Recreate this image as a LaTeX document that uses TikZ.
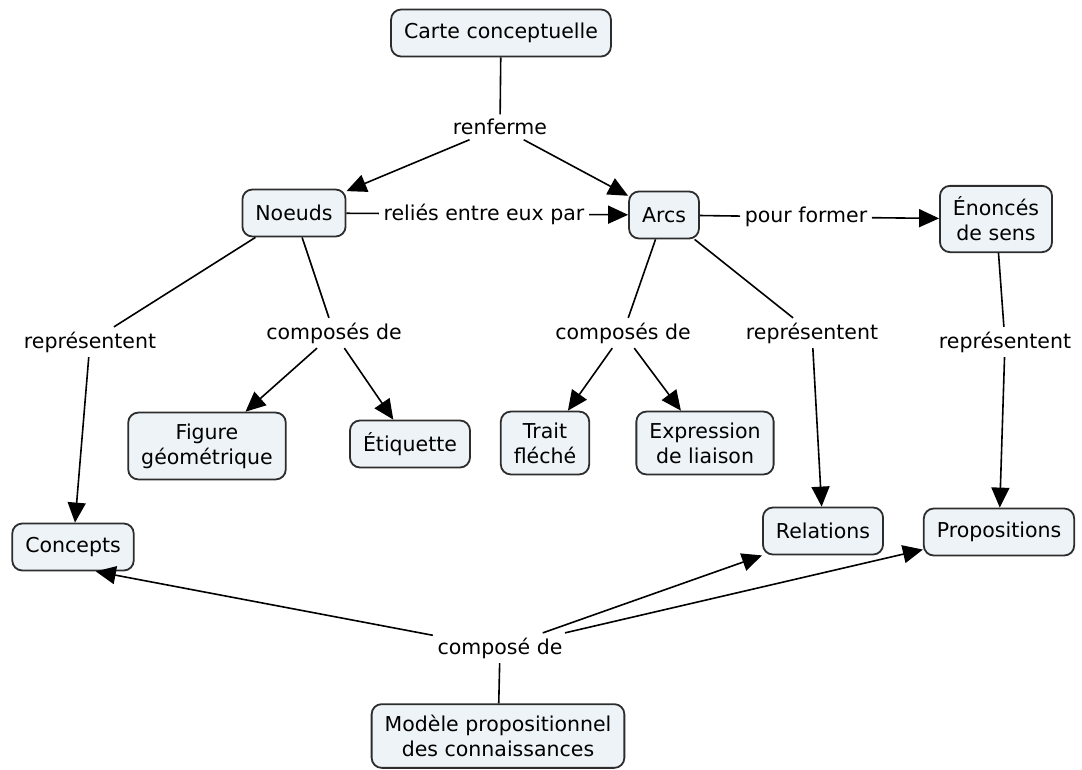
\documentclass[tikz,border=0pt]{standalone}
\usepackage{fontspec}
\setmainfont{DejaVu Sans}
\usepackage{tikz}
\usetikzlibrary{arrows.meta}
\definecolor{cmapfill}{RGB}{237,243,246}
\definecolor{cmapline}{RGB}{45,45,45}

\tikzset{
  concept/.style={draw=cmapline,fill=cmapfill,line width=1.8pt,rounded corners=10pt,
                  align=center,inner xsep=13pt,inner ysep=11pt,minimum height=47pt},
  phrase/.style={inner sep=4pt,align=center}
}

\begin{document}
\begin{tikzpicture}[x=1pt,y=-1pt,line width=1.6pt,
                    >={Triangle[length=20pt,width=18pt]},
                    font=\fontsize{20.5}{25}\selectfont]
        \useasboundingbox (0,0) rectangle (1082,769);

        \node[concept] (C01) at (501,33)   {Carte conceptuelle};
        \node[concept] (C02) at (294,213)  {Noeuds};
        \node[concept] (C03) at (664,215)  {Arcs};
        \node[concept] (C04) at (996,219)  {Énoncés\\de sens};
        \node[concept] (C05) at (207,446)  {Figure\\géométrique};
        \node[concept] (C06) at (410,444)  {Étiquette};
        \node[concept] (C07) at (545,443)  {Trait\\fléché};
        \node[concept] (C08) at (705,443)  {Expression\\de liaison};
        \node[concept] (C09) at (73,547)   {Concepts};
        \node[concept] (C10) at (823,531)  {Relations};
        \node[concept] (C11) at (999,532)  {Propositions};
        \node[concept] (C12) at (498,736)  {Modèle propositionnel\\des connaissances};

        \node[phrase]  (L01) at (500,127)  {renferme};
        \node[phrase]  (L02) at (484,214)  {reliés entre eux par};
        \node[phrase]  (L03) at (806,217)  {pour former};
        \node[phrase]  (L04) at (90,342)   {représentent};
        \node[phrase]  (L05) at (334,333)  {composés de};
        \node[phrase]  (L06) at (623,333)  {composés de};
        \node[phrase]  (L07) at (812,333)  {représentent};
        \node[phrase]  (L08) at (1005,342) {représentent};
        \node[phrase]  (L09) at (500,648)  {composé de};

        \path[draw=black]
                  (C01) edge (L01)
                  (C02) edge (L02)
                        edge (L04)
                        edge (L05)
                  (C03) edge (L03)
                        edge (L06)
                        edge (L07)
                  (C04) edge (L08)
                  (C12) edge (L09);

        \path[->]
                  (L01) edge (C02)
                        edge (C03)
                  (L02) edge (C03)
                  (L03) edge (C04)
                  (L04) edge (C09)
                  (L05) edge (C05)
                        edge (C06)
                  (L06) edge (C07)
                        edge (C08)
                  (L07) edge (C10)
                  (L08) edge (C11)
                  (L09) edge (C09.-47)
                        edge (C10.south west)
                        edge (C11.193);
\end{tikzpicture}
\end{document}
